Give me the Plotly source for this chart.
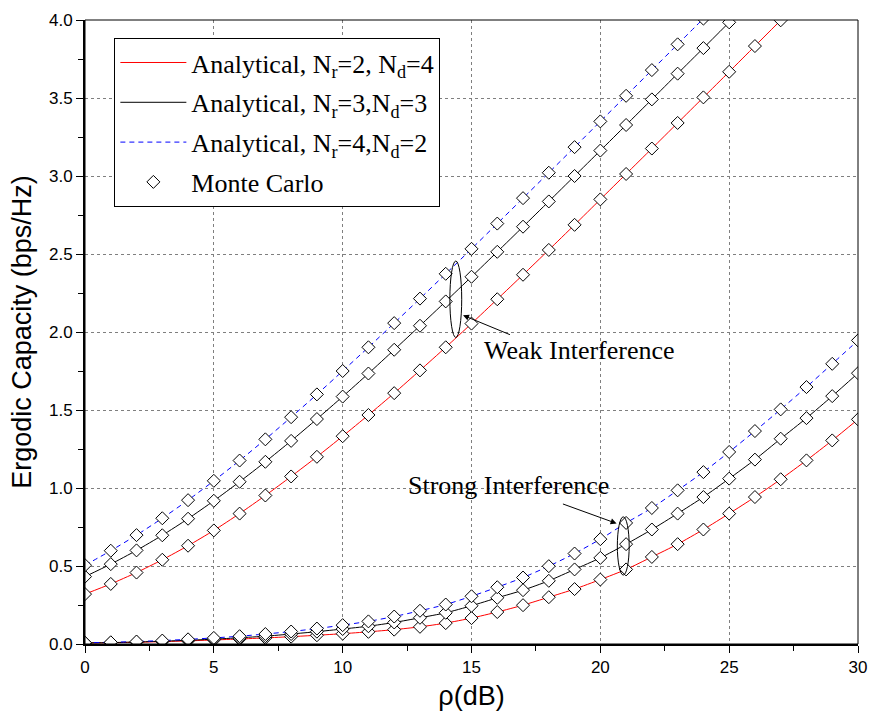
import plotly.graph_objects as go

# ---------------- data ----------------
snr_db = list(range(31))

# Weak interference (capacity in bps/Hz); curves leave the 4.0 top of the chart
weak_nr2_nd4 = [0.320, 0.385, 0.458, 0.540, 0.630, 0.728, 0.836, 0.952, 1.074, 1.200,
                1.332, 1.468, 1.608, 1.754, 1.902, 2.054, 2.210, 2.367, 2.526, 2.687,
                2.850, 3.013, 3.176, 3.340, 3.504, 3.668, 3.833, 3.998]
weak_nr3_nd3 = [0.432, 0.512, 0.600, 0.697, 0.803, 0.918, 1.040, 1.168, 1.302, 1.442,
                1.586, 1.734, 1.886, 2.040, 2.196, 2.354, 2.514, 2.675, 2.837, 3.000,
                3.163, 3.327, 3.491, 3.656, 3.820, 3.985]
weak_nr4_nd2 = [0.505, 0.598, 0.698, 0.806, 0.922, 1.046, 1.176, 1.312, 1.454, 1.600,
                1.750, 1.902, 2.057, 2.214, 2.373, 2.533, 2.695, 2.858, 3.021, 3.185,
                3.350, 3.514, 3.679, 3.844, 4.009]

# Strong interference
strong_nr2_nd4 = [0.006, 0.008, 0.011, 0.015, 0.020, 0.026, 0.032, 0.039, 0.047, 0.056,
                  0.066, 0.078, 0.092, 0.110, 0.134, 0.166, 0.205, 0.249, 0.300, 0.352,
                  0.413, 0.478, 0.558, 0.640, 0.734, 0.836, 0.942, 1.056, 1.177, 1.305, 1.440]
strong_nr3_nd3 = [0.007, 0.009, 0.013, 0.018, 0.024, 0.031, 0.040, 0.050, 0.064, 0.079,
                  0.096, 0.114, 0.138, 0.168, 0.200, 0.245, 0.296, 0.345, 0.405, 0.478,
                  0.552, 0.640, 0.734, 0.836, 0.942, 1.060, 1.182, 1.316, 1.448, 1.589, 1.736]
strong_nr4_nd2 = [0.008, 0.011, 0.016, 0.022, 0.030, 0.039, 0.050, 0.064, 0.080, 0.099,
                  0.121, 0.145, 0.176, 0.213, 0.253, 0.306, 0.364, 0.426, 0.499, 0.580,
                  0.672, 0.776, 0.872, 0.985, 1.102, 1.231, 1.365, 1.504, 1.647, 1.796, 1.946]

legend_names = ["Analytical, N<sub>r</sub>=2, N<sub>d</sub>=4",
                "Analytical, N<sub>r</sub>=3,N<sub>d</sub>=3",
                "Analytical, N<sub>r</sub>=4,N<sub>d</sub>=2",
                "Monte Carlo"]

x_ticks = [0, 5, 10, 15, 20, 25, 30]
y_ticks = [0.0, 0.5, 1.0, 1.5, 2.0, 2.5, 3.0, 3.5, 4.0]

# ---------------- figure ----------------
SERIF = "Liberation Serif, Times New Roman, serif"
SANS = "Liberation Sans, Arial, sans-serif"

styles = [("#ff0000", "solid"), ("#000000", "solid"), ("#0000ff", "5px,4px")]
curves = [(weak_nr2_nd4, strong_nr2_nd4),
          (weak_nr3_nd3, strong_nr3_nd3),
          (weak_nr4_nd2, strong_nr4_nd2)]

fig = go.Figure()
for name, (color, dash), (weak, strong) in zip(legend_names[:3], styles, curves):
    for k, vals in enumerate((weak, strong)):
        fig.add_trace(go.Scatter(
            x=snr_db[:len(vals)], y=vals, mode="lines",
            line=dict(color=color, width=1, dash=dash, shape="spline", smoothing=0.6),
            name=name, legendgroup=name, showlegend=(k == 0)))

mc_x, mc_y = [], []
for weak, strong in curves:
    for vals in (weak, strong):
        mc_x += snr_db[:len(vals)] + [None]
        mc_y += vals + [None]
fig.add_trace(go.Scatter(
    x=mc_x, y=mc_y, mode="markers", name=legend_names[3], legendgroup="mc",
    marker=dict(symbol="diamond", size=10, color="white",
                line=dict(color="black", width=1))))

axis_common = dict(
    showline=True, linecolor="black", linewidth=2, mirror=False, automargin=False,
    ticks="outside", ticklen=7, tickwidth=1, tickcolor="black",
    showgrid=True, gridcolor="#7f7f7f", gridwidth=1, griddash="dot",
    zeroline=False, tickfont=dict(family=SANS, size=17, color="black"),
)

fig.update_xaxes(range=[0, 30], tickvals=x_ticks,
                 minor=dict(dtick=2.5, ticks="outside", ticklen=5, tickcolor="black", showgrid=False),
                 title=dict(text="ρ(dB)", font=dict(family=SANS, size=27, color="black"), standoff=10),
                 **axis_common)
fig.update_yaxes(range=[0, 4.0], tickvals=y_ticks, tickformat=".1f",
                 minor=dict(dtick=0.25, ticks="outside", ticklen=5, tickcolor="black", showgrid=False),
                 title=dict(text="Ergodic Capacity (bps/Hz)", font=dict(family=SANS, size=27, color="black"), standoff=10),
                 **axis_common)

# frame
fig.add_shape(type="rect", xref="paper", yref="paper", x0=0, y0=0, x1=1, y1=1,
              line=dict(color="black", width=1), layer="above")

# ellipses marking the groups
fig.add_shape(type="circle", xref="x", yref="y", x0=14.16, x1=14.62, y0=1.965, y1=2.455,
              line=dict(color="black", width=1))
fig.add_shape(type="circle", xref="x", yref="y", x0=20.66, x1=21.12, y0=0.442, y1=0.815,
              line=dict(color="black", width=1))

ann_font = dict(family=SERIF, size=26, color="black")
fig.add_annotation(x=14.67, y=2.107, ax=16.55, ay=1.979, axref="x", ayref="y",
                   xref="x", yref="y", text="", showarrow=True, arrowhead=2,
                   arrowsize=1.2, arrowwidth=1, arrowcolor="black", standoff=0)
fig.add_annotation(x=15.4, y=1.883, xref="x", yref="y", text="Weak Interference",
                   showarrow=False, xanchor="left", yanchor="middle", font=ann_font)
fig.add_annotation(x=20.63, y=0.773, ax=18.49, ay=0.901, axref="x", ayref="y",
                   xref="x", yref="y", text="", showarrow=True, arrowhead=2,
                   arrowsize=1.2, arrowwidth=1, arrowcolor="black", standoff=0)
fig.add_annotation(x=12.45, y=1.018, xref="x", yref="y", text="Strong Interference",
                   showarrow=False, xanchor="left", yanchor="middle", font=ann_font)

fig.update_layout(
    width=869, height=715,
    margin=dict(l=85, r=11, t=20, b=71),
    paper_bgcolor="white", plot_bgcolor="white",
    legend=dict(x=0.038, y=0.971, xanchor="left", yanchor="top",
                bgcolor="white", bordercolor="black", borderwidth=1,
                font=dict(family=SERIF, size=26, color="black"),
                tracegroupgap=3, itemwidth=66),
)

fig.write_html("out.html", config={"displayModeBar": False},
               post_script="document.body.style.margin='0';document.body.style.overflow='hidden';")
